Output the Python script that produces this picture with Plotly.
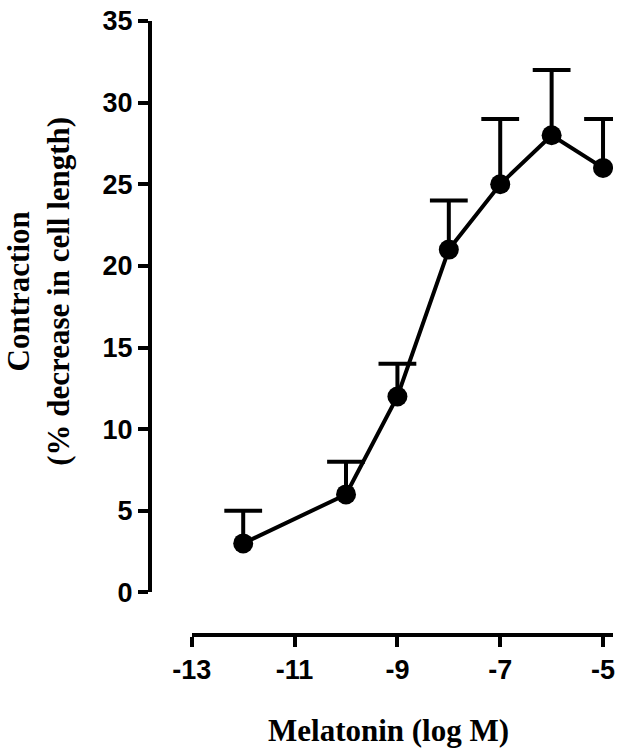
import plotly.graph_objects as go

log_conc = [-12, -10, -9, -8, -7, -6, -5]
contraction = [3, 6, 12, 21, 25, 28, 26]
sem = [2, 2, 2, 3, 4, 4, 3]

x_ticks = [-13, -11, -9, -7, -5]
x_tick_labels = ["-13", "-11", "-9", "-7", "-5"]
y_ticks = [0, 5, 10, 15, 20, 25, 30, 35]

tick_font = dict(family="Liberation Sans, Arial", size=27, color="black", weight="bold")
title_font = dict(family="Liberation Serif, Times New Roman", size=31, color="black", weight="bold")

top = [c + s for c, s in zip(contraction, sem)]

fig = go.Figure()
# upper error bars: stem drawn down from the cap, cap as a horizontal line marker
fig.add_trace(go.Scatter(
    x=log_conc, y=top, mode="markers",
    marker=dict(symbol="line-ew", size=27, line=dict(color="black", width=4)),
    error_y=dict(type="data", symmetric=False, array=[0] * len(sem), arrayminus=sem,
                 color="black", thickness=4, width=0),
    showlegend=False,
))
fig.add_trace(go.Scatter(
    x=log_conc, y=contraction, mode="lines+markers",
    line=dict(color="black", width=4),
    marker=dict(color="black", size=20),
    showlegend=False,
))

fig.update_layout(
    width=621, height=750,
    margin=dict(l=150, r=6, t=15, b=115),
    plot_bgcolor="white", paper_bgcolor="white",
    xaxis=dict(domain=[0.0903, 1], range=[-13, -4.806], anchor="free", position=0,
               tickvals=x_ticks, ticktext=x_tick_labels, ticks="outside", ticklen=10,
               tickwidth=4, tickcolor="black", showline=True, linewidth=4,
               linecolor="black", showgrid=False, zeroline=False, tickfont=tick_font),
    yaxis=dict(domain=[0.0694, 1], range=[0, 35], anchor="free", position=0,
               tickvals=y_ticks, ticks="outside", ticklen=10, tickwidth=4,
               tickcolor="black", showline=True, linewidth=4, linecolor="black",
               showgrid=False, zeroline=False, tickfont=tick_font),
    annotations=[
        dict(text="Melatonin (log M)", xref="paper", yref="paper", x=0.516, y=-0.156,
             xanchor="center", yanchor="middle", showarrow=False, font=title_font),
        dict(text="Contraction<br>(% decrease in cell length)", xref="paper", yref="paper",
             x=-0.2409, y=0.5597, xanchor="center", yanchor="middle", textangle=-90,
             showarrow=False, font=title_font),
    ],
)

fig.write_html("out.html", config={"displayModeBar": False},
               post_script="document.body.style.margin='0';")
